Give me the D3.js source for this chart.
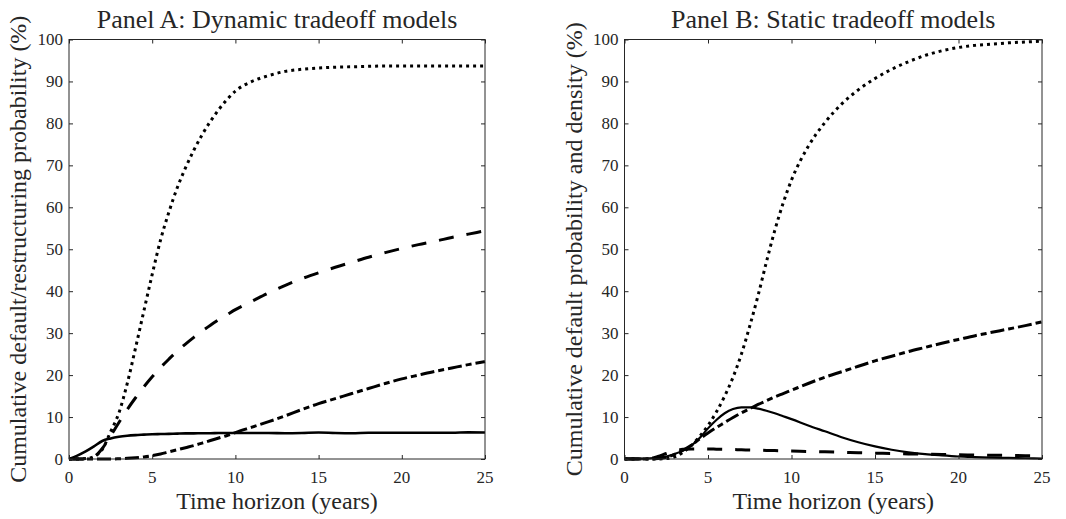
<!DOCTYPE html>
<html>
<head>
<meta charset="utf-8">
<script src="https://cdn.jsdelivr.net/npm/d3@7"></script>
</head>
<body style="margin:0">
<svg id="chart" width="1066" height="519"></svg>
<script>
// Time horizon grid (years) shared by every curve
const timeYears = [0, 0.5, 1, 1.5, 2, 2.5, 3, 3.5, 4, 4.5, 5, 5.5, 6, 6.5, 7, 7.5, 8, 8.5, 9, 9.5,
                   10, 11, 12, 13, 14, 15, 16, 17, 18, 19, 20, 21, 22, 23, 24, 25];

const xTickValues = [0, 5, 10, 15, 20, 25];
const yTickValues = [0, 10, 20, 30, 40, 50, 60, 70, 80, 90, 100];

// Panel A: dynamic tradeoff models (cumulative probability, %)
const dynamicDotted = [0, 0, 0.1, 0.6, 2.3, 6.5, 11, 18, 26.5, 35.3, 44, 52.2, 58.8, 64.6, 69.4, 73.6, 77.3, 80.5, 83.3, 85.7,
                       87.7, 90, 91.4, 92.4, 92.9, 93.2, 93.4, 93.5, 93.6, 93.7, 93.7, 93.7, 93.7, 93.7, 93.7, 93.7];
const dynamicDashed = [0, 0, 0, 0.5, 2.5, 5.5, 8.7, 11.8, 14.6, 17.2, 19.6, 21.8, 23.8, 25.7, 27.4, 29, 30.5, 31.9, 33.2, 34.4,
                       35.6, 37.6, 39.6, 41.4, 43, 44.4, 45.7, 46.9, 48.1, 49.2, 50.2, 51.1, 51.9, 52.8, 53.6, 54.4];
const dynamicDashDot = [0, 0, 0, 0, 0, 0, 0.05, 0.15, 0.3, 0.5, 0.8, 1.2, 1.7, 2.2, 2.7, 3.2, 3.8, 4.4, 5, 5.6,
                        6.3, 7.6, 8.9, 10.3, 11.8, 13.2, 14.4, 15.6, 16.8, 18, 19.1, 20, 20.9, 21.7, 22.5, 23.2];
const dynamicSolid = [0, 0.8, 1.8, 3, 4.3, 4.9, 5.3, 5.55, 5.7, 5.8, 5.9, 5.95, 6, 6.05, 6.1, 6.1, 6.15, 6.15, 6.2, 6.2,
                      6.2, 6.2, 6.2, 6.15, 6.2, 6.3, 6.2, 6.15, 6.25, 6.25, 6.25, 6.25, 6.25, 6.25, 6.35, 6.3];

// Panel B: static tradeoff models (cumulative probability and density, %)
const staticDotted = [0, 0, 0, 0, 0, 0.1, 0.5, 1.6, 3.2, 5.4, 8, 11.2, 15, 19.5, 25, 31.7, 39, 47, 54.5, 61,
                      66.5, 74.5, 80.2, 84.6, 88, 90.7, 92.9, 94.7, 96.2, 97.3, 98.1, 98.6, 98.9, 99.2, 99.4, 99.6];
const staticDashDot = [0, 0, 0, 0, 0.1, 0.4, 1.1, 2.1, 3.3, 4.8, 6.2, 7.5, 8.7, 9.9, 11, 12, 13, 13.9, 14.8, 15.6,
                       16.4, 18, 19.5, 20.8, 22.1, 23.4, 24.5, 25.6, 26.6, 27.6, 28.5, 29.4, 30.2, 31, 31.8, 32.7];
const staticSolid = [0.1, 0.1, 0.1, 0.15, 0.3, 0.6, 1.2, 2, 3.2, 5, 7.3, 9.3, 10.9, 11.9, 12.3, 12.3, 12, 11.5, 10.9, 10.2,
                     9.5, 8, 6.6, 5.2, 4, 3, 2.2, 1.6, 1.15, 0.85, 0.6, 0.45, 0.33, 0.25, 0.18, 0.12];
const staticDashed = [0, 0, 0, 0.1, 0.6, 1.3, 1.9, 2.3, 2.4, 2.4, 2.4, 2.35, 2.3, 2.25, 2.2, 2.15, 2.1, 2.05, 2, 1.95,
                      1.9, 1.8, 1.7, 1.6, 1.5, 1.4, 1.3, 1.2, 1.15, 1.1, 1, 0.95, 0.9, 0.85, 0.8, 0.75];

const panelTitles = ["Panel A: Dynamic tradeoff models", "Panel B: Static tradeoff models"];
const yAxisLabels = ["Cumulative default/restructuring probability (%)",
                     "Cumulative default probability and density (%)"];
const xAxisLabel = "Time horizon (years)";

const serifFont = '"Liberation Serif", monospace';
const inkColor = "#262626";

// Line styles
const styles = {
  solid:   { dash: null,         width: 2.6 },
  thin:    { dash: null,         width: 2.2 },
  dashed:  { dash: "15,13",      width: 3 },
  dashdot: { dash: "14,4,6,4",   width: 3 },
  dotted:  { dash: "3,4",        width: 3 }
};

const panels = [
  {
    title: panelTitles[0], yLabel: yAxisLabels[0], left: 69, right: 485,
    series: [
      { values: dynamicDashDot, style: "dashdot" },
      { values: dynamicDashed,  style: "dashed" },
      { values: dynamicDotted,  style: "dotted" },
      { values: dynamicSolid,   style: "solid" }
    ]
  },
  {
    title: panelTitles[1], yLabel: yAxisLabels[1], left: 624.5, right: 1042,
    series: [
      { values: staticDashed,   style: "dashed" },
      { values: staticDashDot,  style: "dashdot" },
      { values: staticDotted,   style: "dotted" },
      { values: staticSolid,    style: "thin" }
    ]
  }
];

const plotTop = 39.5, plotBottom = 459;
const svg = d3.select("#chart");
svg.append("rect").attr("width", 1066).attr("height", 519).attr("fill", "#fff");

// text is placed straight on the svg root with the serif face set inline
const addText = (x, y, str, size, anchor, transform) => {
  const t = svg.append("text")
    .style("font-family", serifFont)
    .attr("font-size", size)
    .attr("fill", inkColor)
    .attr("text-anchor", anchor);
  if (transform) t.attr("transform", transform);
  else t.attr("x", x).attr("y", y);
  return t.text(str);
};

panels.forEach(p => {
  const x = d3.scaleLinear().domain([0, 25]).range([p.left, p.right]);
  const y = d3.scaleLinear().domain([0, 100]).range([plotBottom, plotTop]);
  const g = svg.append("g");

  // curves
  const line = d3.line()
    .x((d, i) => x(timeYears[i]))
    .y(d => y(d))
    .curve(d3.curveMonotoneX);

  p.series.forEach(s => {
    const st = styles[s.style];
    g.append("path")
      .datum(s.values)
      .attr("d", line)
      .attr("fill", "none")
      .attr("stroke", "#000")
      .attr("stroke-width", st.width)
      .attr("stroke-dasharray", st.dash)
      .attr("stroke-linecap", "butt")
      .attr("stroke-linejoin", "round");
  });

  // tick marks pointing inward on all four sides
  const tickStyle = sel => {
    sel.select(".domain").remove();
    sel.selectAll(".tick line").attr("stroke", inkColor).attr("stroke-width", 1);
    sel.selectAll(".tick text").remove();
  };
  g.append("g").attr("transform", `translate(0,${plotBottom})`)
    .call(d3.axisBottom(x).tickValues(xTickValues).tickSizeInner(-4).tickSizeOuter(0).tickFormat(""))
    .call(tickStyle);
  g.append("g").attr("transform", `translate(0,${plotTop})`)
    .call(d3.axisTop(x).tickValues(xTickValues).tickSizeInner(-4).tickSizeOuter(0).tickFormat(""))
    .call(tickStyle);
  g.append("g").attr("transform", `translate(${p.left},0)`)
    .call(d3.axisLeft(y).tickValues(yTickValues).tickSizeInner(-4).tickSizeOuter(0).tickFormat(""))
    .call(tickStyle);
  g.append("g").attr("transform", `translate(${p.right},0)`)
    .call(d3.axisRight(y).tickValues(yTickValues).tickSizeInner(-4).tickSizeOuter(0).tickFormat(""))
    .call(tickStyle);

  // frame
  g.append("rect")
    .attr("x", p.left).attr("y", plotTop)
    .attr("width", p.right - p.left).attr("height", plotBottom - plotTop)
    .attr("fill", "none").attr("stroke", inkColor).attr("stroke-width", 1);

  // tick labels from the same scales
  const fmt = x.tickFormat();
  xTickValues.forEach(v => addText(x(v), plotBottom + 24, fmt(v), 17, "middle"));
  yTickValues.forEach(v => addText(p.left - 6, y(v) + 5.5, fmt(v), 17, "end"));

  // title and axis labels
  addText((p.left + p.right) / 2, 28, p.title, 26, "middle");
  addText((p.left + p.right) / 2, 509, xAxisLabel, 24, "middle");
  addText(0, 0, p.yLabel, 24, "middle",
          `translate(${p.left - 43},${(plotTop + plotBottom) / 2}) rotate(-90)`);
});
</script>
</body>
</html>
